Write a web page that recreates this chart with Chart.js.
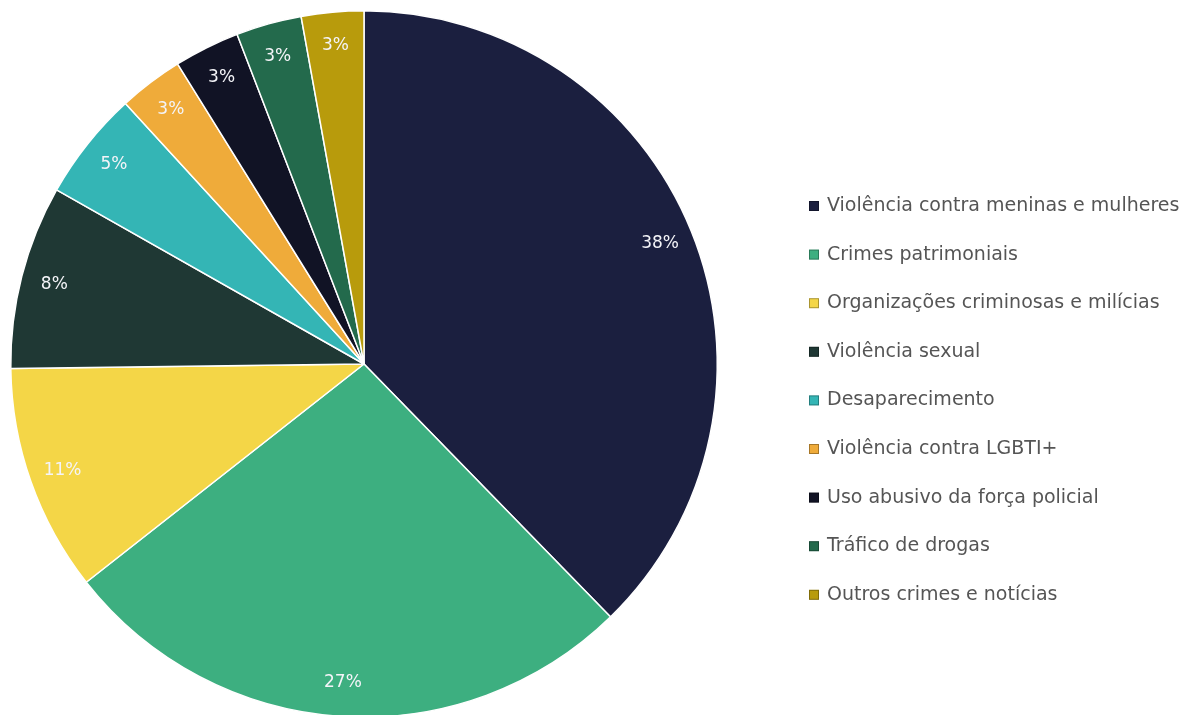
<!DOCTYPE html>
<html>
<head>
<meta charset="utf-8">
<script src="https://cdn.jsdelivr.net/npm/chart.js@4"></script>
<style>
html,body{margin:0;padding:0;background:#fff;overflow:hidden;}
#wrap{position:relative;width:1195px;height:720px;}
</style>
</head>
<body>
<div id="wrap"><canvas id="c"></canvas></div>
<script>
const categories = [
  'Violência contra meninas e mulheres',
  'Crimes patrimoniais',
  'Organizações criminosas e milícias',
  'Violência sexual',
  'Desaparecimento',
  'Violência contra LGBTI+',
  'Uso abusivo da força policial',
  'Tráfico de drogas',
  'Outros crimes e notícias'
];
const values = [37.7, 26.7, 10.4, 8.4, 5.0, 2.95, 3.0, 3.0, 2.85];
const percentLabels = ['38%', '27%', '11%', '8%', '5%', '3%', '3%', '3%', '3%'];
const colors = ['#1b1f3f', '#3daf80', '#f4d647', '#1f3834', '#34b5b5', '#efab3a', '#111325', '#236a4c', '#b89b0c'];

const FONT = '"DejaVu Sans", sans-serif';

const sliceLabels = {
  id: 'sliceLabels',
  afterDatasetsDraw(chart) {
    const ctx = chart.ctx;
    const meta = chart.getDatasetMeta(0);
    ctx.save();
    ctx.fillStyle = '#f4f4f8';
    ctx.font = '17px ' + FONT;
    ctx.textAlign = 'center';
    ctx.textBaseline = 'middle';
    meta.data.forEach((arc, i) => {
      const p = arc.getProps(['x', 'y', 'startAngle', 'endAngle', 'outerRadius']);
      const a = (p.startAngle + p.endAngle) / 2;
      const r = p.outerRadius * 0.905;
      ctx.fillText(percentLabels[i], p.x + Math.cos(a) * r, p.y + Math.sin(a) * r);
    });
    ctx.restore();
  }
};

const sideLegend = {
  id: 'sideLegend',
  afterDraw(chart) {
    const ctx = chart.ctx;
    ctx.save();
    ctx.font = '19px ' + FONT;
    ctx.textBaseline = 'middle';
    ctx.textAlign = 'left';
    const x0 = 809, y0 = 206, step = 48.6;
    categories.forEach((name, i) => {
      const y = y0 + i * step;
      ctx.fillStyle = colors[i];
      ctx.fillRect(x0, y - 5, 10, 10);
      ctx.strokeStyle = 'rgba(0,0,0,0.3)';
      ctx.lineWidth = 1;
      ctx.strokeRect(x0 + 0.5, y - 4.5, 9, 9);
      ctx.fillStyle = '#555555';
      ctx.fillText(name, x0 + 18, y);
    });
    ctx.restore();
  }
};

new Chart(document.getElementById('c'), {
  type: 'pie',
  data: {
    labels: categories,
    datasets: [{
      data: values,
      backgroundColor: colors,
      borderColor: '#ffffff',
      borderWidth: 1.5
    }]
  },
  options: {
    responsive: true,
    maintainAspectRatio: false,
    animation: false,
    layout: { padding: { top: 8, bottom: 0, left: 10, right: 477 } },
    plugins: {
      legend: { display: false },
      tooltip: { enabled: false }
    }
  },
  plugins: [sliceLabels, sideLegend]
});
</script>
</body>
</html>
